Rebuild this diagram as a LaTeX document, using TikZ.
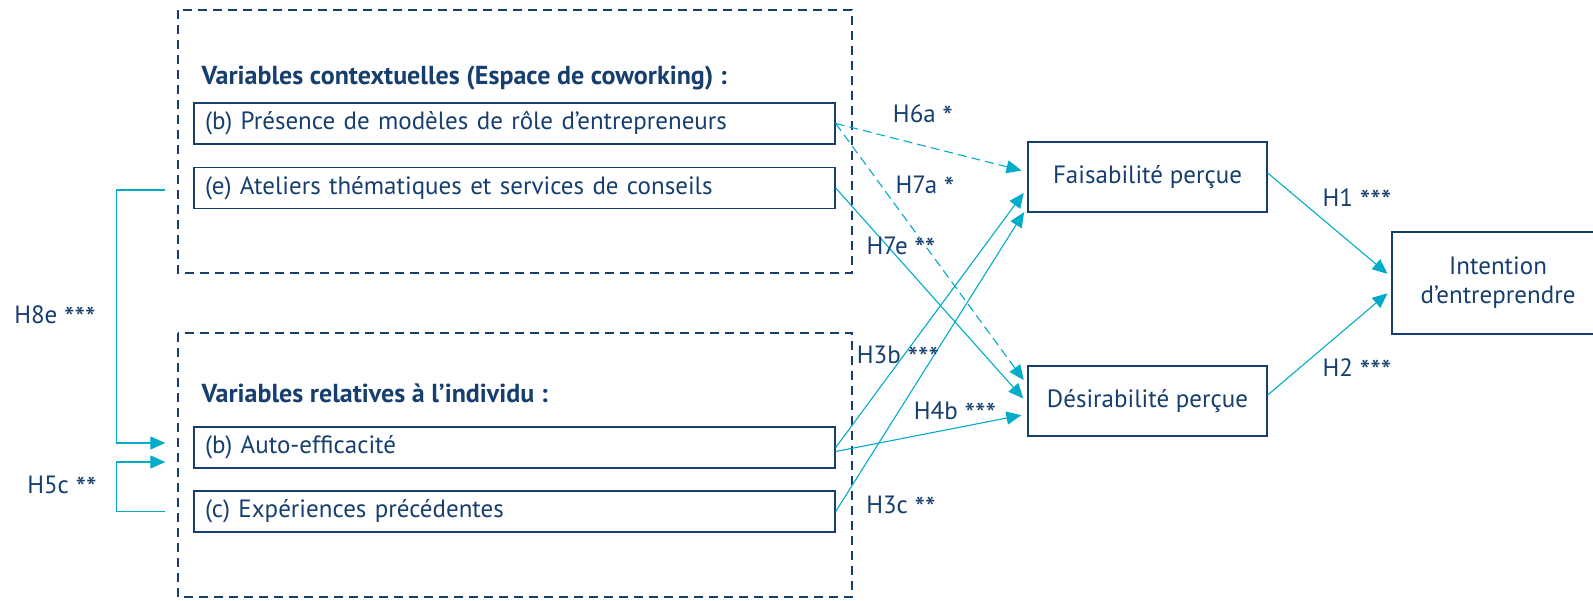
\documentclass[tikz,border=0pt]{standalone}
\usepackage{fontspec}
\setmainfont{PT Sans}
\usetikzlibrary{arrows.meta}
\definecolor{navy}{RGB}{22,62,110}
\definecolor{cyanline}{RGB}{0,172,200}
\newcommand{\signif}[1]{\raisebox{-5pt}{\fontsize{30}{30}\selectfont #1}}

\begin{document}
\begin{tikzpicture}[x=1pt,y=-1pt,
    font=\fontsize{25}{29}\selectfont,
    every node/.style={text=navy},
    varbox/.style={draw=navy,line width=1.4pt,minimum height=41pt,text width=619pt,inner xsep=11pt,align=left},
    outbox/.style={draw=navy,line width=1.4pt,minimum height=70pt,minimum width=239pt,align=center},
    grp/.style={draw=navy,line width=1.3pt,dash pattern=on 9pt off 6pt},
    gtitle/.style={anchor=base west,font=\fontsize{26}{30}\selectfont\bfseries},
    link/.style={draw=cyanline,line width=1.1pt,-{Triangle[length=15pt,width=13pt]},shorten >=6pt},
    dlink/.style={link,dash pattern=on 9pt off 5pt}]
  \useasboundingbox (0,0) rectangle (1593,600);
  \clip (0,0) rectangle (1593,600);

  % Groups of variables
  \draw[grp] (178,10) rectangle (852,273);
  \draw[grp] (178,333) rectangle (852,597);
  \node[gtitle] (ctx) at (198,84) {Variables contextuelles (Espace de coworking) :};
  \node[gtitle] (ind) at (198,402) {Variables relatives à l’individu :};

  \node[varbox] (b1) at (514.5,123.5) {(b) Présence de modèles de rôle d’entrepreneurs};
  \node[varbox] (e)  at (514.5,188)   {(e) Ateliers thématiques et services de conseils};
  \node[varbox] (b2) at (514.5,447.5) {(b) Auto-efficacité};
  \node[varbox] (c)  at (514.5,511.5) {(c) Expériences précédentes};

  % Perceptions and intention
  \node[outbox] (F) at (1147.5,177) {Faisabilité perçue};
  \node[outbox] (D) at (1147.5,401) {Désirabilité perçue};
  \node[outbox,minimum width=212pt,minimum height=102pt] (I) at (1498,283) {Intention\\d’entreprendre};

  % Hypotheses
  \draw[dlink] (b1.east) -- ([yshift=5pt]F.west);
  \draw[dlink] (b1.east) -- ([yshift=16pt]D.west);
  \draw[link] (e.east) -- ([yshift=-2pt]D.west);
  \draw[link] (b2.east) -- ([yshift=-11pt]F.west);
  \draw[link] (c.east) -- ([yshift=-30pt]F.west);
  \draw[link] ([yshift=-4pt]b2.east) -- ([yshift=-13pt]D.west);
  \draw[link,shorten >=5pt] ([yshift=4pt]F.east) -- ([yshift=6pt]I.west);
  \draw[link,shorten >=5pt] ([yshift=6pt]D.east) -- ([yshift=-7pt]I.west);
  \draw[link,shorten >=0pt] ([xshift=-28pt,yshift=-2pt]e.west) -- ++(-49,0) |- ([xshift=-28pt,yshift=4.5pt]b2.west);
  \draw[link,shorten >=0pt] ([xshift=-28pt]c.west) -- ++(-49,0) |- ([xshift=-28pt,yshift=-14.5pt]b2.west);

  \node (h6a) at (923,116) {H6a \signif{*}};
  \node (h7a) at (925,187) {H7a \signif{*}};
  \node (h7e) at (901,248) {H7e \signif{**}};
  \node (h3b) at (898,357) {H3b \signif{***}};
  \node (h4b) at (955,413) {H4b \signif{***}};
  \node (h3c) at (901,507) {H3c \signif{**}};
  \node (h1)  at (1357,200) {H1 \signif{***}};
  \node (h2)  at (1357,370) {H2 \signif{***}};
  \node (h8e) at (55,317) {H8e \signif{***}};
  \node (h5c) at (62,487) {H5c \signif{**}};
\end{tikzpicture}
\end{document}
